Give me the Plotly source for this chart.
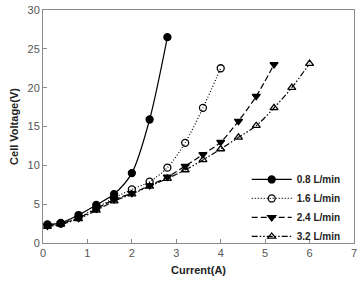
import plotly.graph_objects as go

x08 = [0.1, 0.4, 0.8, 1.2, 1.6, 2.0, 2.4, 2.8]
y08 = [2.4, 2.6, 3.6, 4.9, 6.3, 9.0, 15.9, 26.5]

x16 = [0.1, 0.4, 0.8, 1.2, 1.6, 2.0, 2.4, 2.8, 3.2, 3.6, 4.0]
y16 = [2.3, 2.5, 3.3, 4.5, 5.8, 6.9, 7.9, 9.7, 12.9, 17.4, 22.5]

x24 = [0.1, 0.4, 0.8, 1.2, 1.6, 2.0, 2.4, 2.8, 3.2, 3.6, 4.0, 4.4, 4.8, 5.2]
y24 = [2.2, 2.5, 3.2, 4.4, 5.6, 6.4, 7.4, 8.5, 9.9, 11.4, 13.0, 15.7, 18.9, 23.0]

x32 = [0.1, 0.4, 0.8, 1.2, 1.6, 2.0, 2.4, 2.8, 3.2, 3.6, 4.0, 4.4, 4.8, 5.2, 5.6, 6.0]
y32 = [2.1, 2.4, 3.1, 4.2, 5.4, 6.3, 7.3, 8.3, 9.4, 10.7, 12.1, 13.6, 15.1, 17.4, 20.0, 23.1]

names = ["0.8 L/min", "1.6 L/min", "2.4 L/min", "3.2 L/min"]
xticks = [0, 1, 2, 3, 4, 5, 6, 7]
yticks = [0, 5, 10, 15, 20, 25, 30]

series = [
    (x08, y08, names[0], "solid", "circle"),
    (x16, y16, names[1], "1px,2px", "circle-open"),
    (x24, y24, names[2], "6px,3px", "triangle-down"),
    (x32, y32, names[3], "6px,2px,1.5px,2px,1.5px,2px", "triangle-up-open"),
]

fig = go.Figure()
for xs, ys, nm, dash, sym in series:
    fig.add_trace(go.Scatter(
        x=xs, y=ys, name="<b>" + nm + "</b>", mode="lines+markers",
        line=dict(color="black", width=1.2, dash=dash, shape="spline", smoothing=0.8),
        marker=dict(symbol=sym, size=7, color="black",
                    line=dict(color="black", width=1.3)),
    ))

axis_common = dict(
    showline=True, linecolor="#8a8a8a", linewidth=1, mirror=True,
    ticks="inside", ticklen=4, tickcolor="#8a8a8a",
    showgrid=False, zeroline=False,
    tickfont=dict(family="Arial, Liberation Sans", size=11, color="#555555"),
)

fig.update_xaxes(range=[0, 7], tickvals=xticks,
                 title=dict(text="<b>Current(A)</b>", standoff=8,
                            font=dict(family="Arial, Liberation Sans", size=11, color="#222222")),
                 **axis_common)
fig.update_yaxes(range=[0, 30], tickvals=yticks,
                 title=dict(text="<b>Cell Voltage(V)</b>", standoff=6,
                            font=dict(family="Arial, Liberation Sans", size=11, color="#222222")),
                 **axis_common)

fig.update_layout(
    width=361, height=282,
    margin=dict(l=43, r=4, t=9, b=39),
    paper_bgcolor="white", plot_bgcolor="white",
    showlegend=True,
    legend=dict(x=0.655, y=0.335, xanchor="left", yanchor="top",
                bgcolor="rgba(0,0,0,0)", borderwidth=0,
                font=dict(family="Arial, Liberation Sans", size=10, color="#222222"),
                tracegroupgap=0, itemwidth=40),
)

fig.write_html("out.html")
